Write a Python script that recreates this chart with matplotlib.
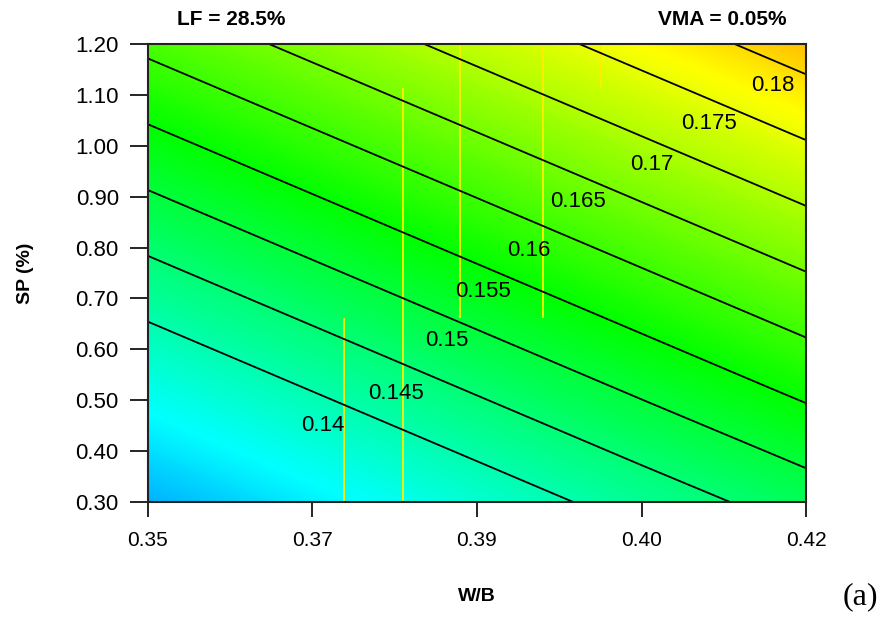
import numpy as np
import matplotlib
matplotlib.use("Agg")
import matplotlib.pyplot as plt
from matplotlib.colors import LinearSegmentedColormap

plt.rcParams['font.family'] = ['Liberation Sans', 'DejaVu Sans']

# response surface (rows = SP, cols = W/B)
wb = [0.35, 0.3675, 0.385, 0.4025, 0.42]
sp = [0.30, 0.525, 0.75, 0.975, 1.20]
resp = [
    [0.1263, 0.1316, 0.1369, 0.1422, 0.1474],
    [0.1350, 0.1403, 0.1456, 0.1509, 0.1562],
    [0.1437, 0.1490, 0.1543, 0.1596, 0.1649],
    [0.1524, 0.1577, 0.1630, 0.1683, 0.1736],
    [0.1611, 0.1664, 0.1717, 0.1770, 0.1823],
]

levels = [0.14, 0.145, 0.15, 0.155, 0.16, 0.165, 0.17, 0.175, 0.18]
level_text = ['0.14', '0.145', '0.15', '0.155', '0.16', '0.165', '0.17', '0.175', '0.18']
label_wb = [0.3686, 0.3764, 0.3818, 0.3856, 0.3905, 0.3957, 0.4036, 0.4097, 0.4165]
label_sp = [0.451, 0.514, 0.618, 0.713, 0.795, 0.890, 0.964, 1.043, 1.118]

xticks = [0.35, 0.3675, 0.385, 0.4025, 0.42]
xtick_labels = ['0.35', '0.37', '0.39', '0.40', '0.42']
yticks = [0.30, 0.40, 0.50, 0.60, 0.70, 0.80, 0.90, 1.00, 1.10, 1.20]

# thin yellow seams visible in the image
seam_wb = [0.3709, 0.3771, 0.3832, 0.3920, 0.3982]
seam_lo = [0.30, 0.30, 0.662, 0.662, 1.114]
seam_hi = [0.662, 1.114, 1.20, 1.20, 1.20]

cmap = LinearSegmentedColormap.from_list(
    'rs', [(0, (0.0, 0.5, 1.0)), (30 / 165, (0.0, 1.0, 1.0)),
           (90 / 165, (0.0, 1.0, 0.0)), (150 / 165, (1.0, 1.0, 0.0)),
           (1.0, (1.0, 0.75, 0.0))])

fig = plt.figure(figsize=(8.92, 6.19), dpi=100)
ax = fig.add_axes([0.1659, 0.189, 0.7377, 0.7399])

X, Y = np.meshgrid(wb, sp)
Z = np.array(resp)
ax.contourf(X, Y, Z, levels=np.linspace(0.1215, 0.1830, 250), cmap=cmap,
            vmin=0.122, vmax=0.1825)
ax.vlines(seam_wb, seam_lo, seam_hi, colors='#ffee00', linewidth=1.3)
ax.contour(X, Y, Z, levels=levels, colors='black', linewidths=1.3)

for t, lx, ly in zip(level_text, label_wb, label_sp):
    ax.text(lx, ly, t, fontsize=16, ha='center', va='center')

ax.set_xlim(0.35, 0.42)
ax.set_ylim(0.30, 1.20)
ax.set_xticks(xticks)
ax.set_xticklabels(xtick_labels)
ax.set_yticks(yticks)
ax.set_yticklabels([f'{v:.2f}' for v in yticks])
ax.tick_params(axis='x', length=11, width=1.2, pad=10, labelsize=15)
ax.tick_params(axis='y', length=13, width=1.2, pad=8, labelsize=16)
for s in ax.spines.values():
    s.set_linewidth(1.5)
    s.set_color('#222222')

ax.set_xlabel('W/B', fontsize=14, fontweight='bold', labelpad=27)
ax.set_ylabel('SP (%)', fontsize=14, fontweight='bold', labelpad=30)
fig.text(0.1985, 0.969, 'LF = 28.5%', fontsize=15, fontweight='bold', va='center')
fig.text(0.882, 0.969, 'VMA = 0.05%', fontsize=15, fontweight='bold', va='center', ha='right')
fig.text(0.945, 0.036, '(a)', fontsize=23, family='Liberation Serif', va='center')

fig.savefig('out.png', dpi=100)
